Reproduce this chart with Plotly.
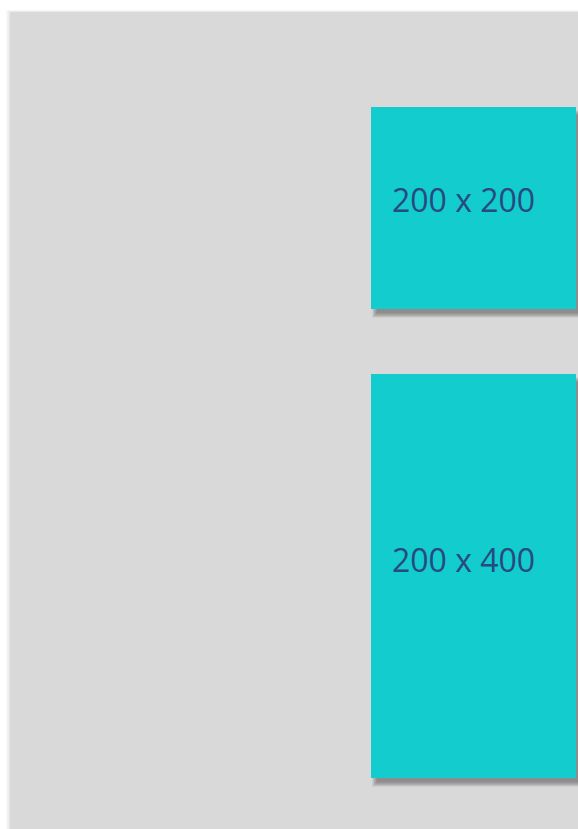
import plotly.graph_objects as go

# data
labels = ["200 x 200", "200 x 400"]
box_w = [200, 200]
box_h = [200, 400]

W, H = 578, 829
PANEL = "#d9d9d9"
BOX = "#12cccd"
TXT = "#284a7e"

sx = 1.025   # px per unit (x)
sy = 1.01    # px per unit (y)
left = 371
tops = [107, 374]

fig = go.Figure()
shapes = []

# panel shadow (faint) and panel
for i in range(4, 0, -1):
    shapes.append(dict(type="rect", xref="x", yref="y", x0=10 - i, y0=12 - i * 0.5, x1=W + 5, y1=H + 5,
                       fillcolor="rgba(0,0,0,0.025)", line=dict(width=0), layer="below"))
shapes.append(dict(type="rect", xref="x", yref="y", x0=10, y0=12, x1=W + 5, y1=H + 5,
                   fillcolor=PANEL, line=dict(width=0), layer="below"))

for lab, w, h, t in zip(labels, box_w, box_h, tops):
    x0, x1 = left, left + w * sx
    y0, y1 = t, t + h * sy
    # soft shadow
    for i in range(8, -1, -1):
        shapes.append(dict(type="rect", xref="x", yref="y",
                           x0=x0 + 6 - i * 0.6, y0=y0 + 8 - i * 0.6,
                           x1=x1 + 4 + i * 0.6, y1=y1 + 4 + i * 0.6,
                           fillcolor="rgba(60,60,60,0.065)", line=dict(width=0), layer="below"))
    shapes.append(dict(type="rect", xref="x", yref="y", x0=x0, y0=y0, x1=x1, y1=y1,
                       fillcolor=BOX, line=dict(width=0), layer="below"))
    fig.add_annotation(x=x0 + 19, y=y0 + (92 if h == 200 else 185), xref="x", yref="y",
                       text=lab, showarrow=False, xanchor="left", yanchor="middle",
                       font=dict(family="Open Sans", size=32, color=TXT))

fig.update_layout(
    width=W, height=H, margin=dict(l=0, r=0, t=0, b=0),
    paper_bgcolor="white", plot_bgcolor="white",
    shapes=shapes, showlegend=False,
    xaxis=dict(range=[0, W], visible=False, fixedrange=True),
    yaxis=dict(range=[H, 0], visible=False, fixedrange=True),
)
fig.write_html("out.html", config={"displayModeBar": False},
               post_script="document.body.style.margin='0';document.body.style.overflow='hidden';")
